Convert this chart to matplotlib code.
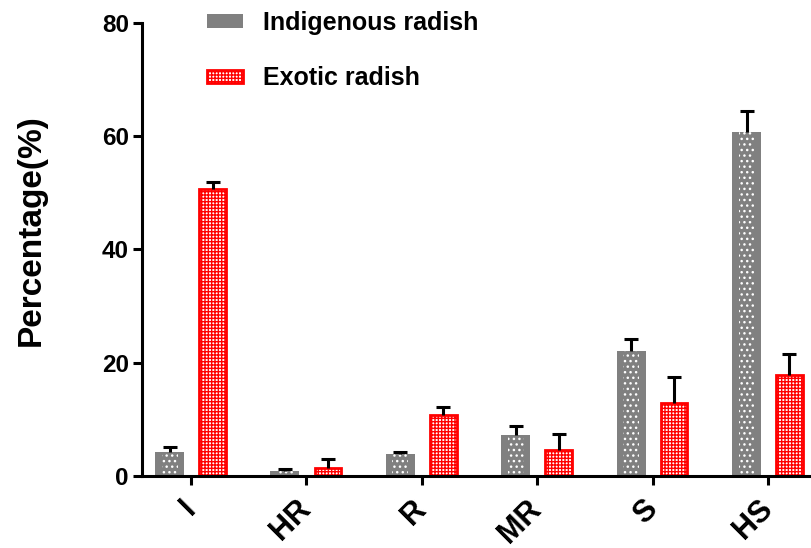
import numpy as np
import matplotlib
matplotlib.use("Agg")
import matplotlib.pyplot as plt

# Resistance categories and group means / upper error (percent)
categories = ["I", "HR", "R", "MR", "S", "HS"]
indigenous = [4.3, 0.95, 3.9, 7.2, 22.1, 60.7]
indigenous_err = [0.9, 0.3, 0.3, 1.6, 2.0, 3.7]
exotic = [50.6, 1.45, 10.7, 4.6, 12.9, 17.8]
exotic_err = [1.3, 1.6, 1.5, 2.9, 4.6, 3.8]
series_labels = ["Indigenous radish", "Exotic radish"]
y_ticks = [0, 20, 40, 60, 80]

plt.rcParams["font.family"] = ["Liberation Sans", "DejaVu Sans"]
plt.rcParams["hatch.linewidth"] = 1.0

GRAY = "#808080"
RED = "#ff0000"

fig = plt.figure(figsize=(8.11, 5.48), dpi=100)
ax = fig.add_axes([142 / 811, 72 / 548, 675 / 811, 453.3 / 548])

x = np.arange(len(categories))
off = 0.186
bw = 0.251

# Indigenous: solid gray with a sparse white dot pattern in the middle
ax.bar(x - off, indigenous, bw, color=GRAY, edgecolor=GRAY, linewidth=0,
       label=series_labels[0], zorder=2)
ax.bar(x - off, indigenous, bw * 0.55, facecolor="none", edgecolor="white",
       linewidth=0, hatch="...", label="_nolegend_", zorder=3)

# Exotic: red outline with red/white checker fill
ax.bar(x + off, exotic, bw - 0.02, facecolor="white", edgecolor=RED,
       linewidth=2.0, hatch="+++++", label=series_labels[1], zorder=2)

# Upper-only error bars (cap on top only)
eb_kw = dict(fmt="none", ecolor="black", elinewidth=2.2, capsize=5,
             capthick=2.2, zorder=4)
for xs, ys, es in ((x - off, indigenous, indigenous_err),
                   (x + off, exotic, exotic_err)):
    _, caps, _ = ax.errorbar(xs, ys, yerr=[np.zeros(len(xs)), es], **eb_kw)
    caps[0].set_visible(False)

ax.set_xlim(-0.425, len(categories) - 1 + 0.425)
ax.set_ylim(0, 80)
ax.set_yticks(y_ticks)
ax.set_yticklabels([str(v) for v in y_ticks], fontsize=17.5, fontweight="bold")
ax.set_xticks(x)
ax.set_xticklabels(categories, fontsize=22, fontweight="bold", rotation=45,
                   ha="right", va="center", rotation_mode="anchor")

for side in ("top", "right"):
    ax.spines[side].set_visible(False)
for side in ("left", "bottom"):
    ax.spines[side].set_linewidth(2.2)
ax.tick_params(axis="both", direction="out", length=6.5, width=2.2)
ax.tick_params(axis="y", pad=3)
ax.tick_params(axis="x", pad=14)

fig.text(31 / 811, 1 - 230 / 548, "Percentage(%)", rotation=90,
         ha="center", va="center", fontsize=24, fontweight="bold")

fig.legend(loc="upper left", bbox_to_anchor=(207 / 811, 1 - 11 / 548),
           frameon=False, prop={"weight": "bold", "size": 18},
           handlelength=1.45, handleheight=0.45, handletextpad=0.8,
           labelspacing=1.25, borderpad=0, borderaxespad=0)

fig.savefig("out.png", dpi=100)
